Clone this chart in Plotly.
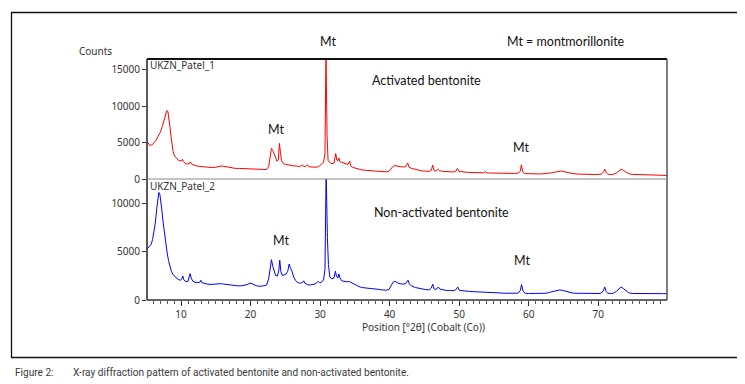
import plotly.graph_objects as go

# ---------------- data ----------------
activated = [
    (5.1, 5150), (5.3, 4800), (5.5, 4620), (5.8, 4700), (6.1, 4950), (6.4, 5350), (6.7, 5800),
    (7.0, 6400), (7.3, 7200), (7.6, 8100), (7.8, 8900), (7.95, 9400), (8.1, 9300), (8.25, 8500),
    (8.4, 7200), (8.55, 5900), (8.7, 4700), (8.85, 3800), (9.0, 3300), (9.2, 3000), (9.4, 2800),
    (9.6, 2600), (9.8, 2500), (10.0, 2450), (10.2, 2700), (10.35, 2400), (10.6, 2150), (10.9, 2050),
    (11.2, 2150), (11.35, 2350), (11.5, 2050), (11.8, 1900), (12.2, 1800), (12.6, 1750), (13.0, 1700),
    (13.5, 1600), (14.0, 1550), (14.5, 1560), (15.0, 1620), (15.5, 1720), (15.9, 1800), (16.3, 1720),
    (16.8, 1600), (17.3, 1520), (17.8, 1460), (18.4, 1450), (19.0, 1420), (19.6, 1400), (20.2, 1380),
    (20.8, 1360), (21.4, 1320), (21.9, 1260), (22.3, 1300), (22.6, 1700), (22.8, 3000), (23.0, 4200),
    (23.2, 3900), (23.4, 3400), (23.6, 2700), (23.8, 2450), (24.0, 2700), (24.15, 4900), (24.3, 3600),
    (24.45, 2500), (24.7, 2150), (25.0, 2000), (25.4, 1950), (25.8, 1850), (26.2, 1800), (26.6, 1780),
    (27.0, 1720), (27.3, 1800), (27.45, 1950), (27.6, 1750), (27.9, 1700), (28.2, 1950), (28.35, 1720),
    (28.7, 1650), (29.1, 1600), (29.5, 1620), (29.9, 1800), (30.2, 2000), (30.5, 2300), (30.7, 3500),
    (30.85, 17500), (31.0, 6000), (31.15, 2500), (31.4, 2300), (31.7, 2100), (32.0, 2200), (32.25, 3500),
    (32.4, 2600), (32.55, 2500), (32.7, 2900), (32.85, 2400), (33.1, 2300), (33.4, 2200), (33.7, 2050),
    (34.0, 2000), (34.25, 2450), (34.4, 1800), (34.7, 1600), (35.0, 1500), (35.5, 1350), (36.0, 1250),
    (36.5, 1200), (37.0, 1150), (37.5, 1100), (38.0, 1050), (38.5, 1000), (39.0, 1000), (39.5, 980),
    (39.9, 1050), (40.2, 1400), (40.5, 1750), (40.8, 1850), (41.1, 1750), (41.5, 1700), (41.9, 1650),
    (42.3, 1700), (42.6, 2200), (42.8, 1600), (43.2, 1450), (43.7, 1300), (44.2, 1200), (44.7, 1100),
    (45.2, 1080), (45.7, 1050), (46.0, 1200), (46.2, 1900), (46.4, 1150), (46.7, 1100), (47.0, 1350),
    (47.2, 1150), (47.6, 1050), (48.1, 1000), (48.6, 980), (49.1, 970), (49.5, 1050), (49.75, 1450),
    (50.0, 1050), (50.5, 950), (51.0, 930), (51.5, 900), (52.0, 880), (52.5, 870), (53.0, 850),
    (53.5, 850), (53.8, 1000), (54.0, 840), (54.5, 820), (55.0, 800), (55.5, 790), (56.0, 780),
    (56.5, 770), (57.0, 760), (57.5, 760), (58.0, 770), (58.5, 800), (58.8, 1100), (58.95, 1950),
    (59.15, 1000), (59.4, 750), (59.8, 720), (60.3, 700), (60.8, 690), (61.3, 700), (61.8, 700),
    (62.3, 720), (62.8, 760), (63.3, 850), (63.8, 950), (64.3, 1050), (64.7, 1100), (65.1, 1000),
    (65.5, 900), (66.0, 800), (66.5, 720), (67.0, 680), (67.5, 650), (68.0, 640), (68.5, 630),
    (69.0, 620), (69.5, 620), (70.0, 630), (70.5, 700), (70.8, 1000), (70.95, 1350), (71.15, 900),
    (71.4, 650), (71.8, 620), (72.2, 650), (72.6, 800), (73.0, 1100), (73.3, 1350), (73.6, 1200),
    (74.0, 900), (74.4, 720), (74.9, 640), (75.4, 620), (75.9, 600), (76.4, 640), (76.9, 600),
    (77.4, 590), (77.9, 560), (78.4, 540), (78.9, 520), (79.4, 500), (79.9, 490),
]

non_activated = [
    (5.1, 5300), (5.3, 5450), (5.5, 5550), (5.7, 5800), (5.9, 6300), (6.1, 7000), (6.3, 8000),
    (6.5, 9500), (6.65, 10600), (6.8, 11200), (6.95, 11000), (7.1, 10300), (7.25, 9300), (7.4, 8200),
    (7.6, 7000), (7.8, 5900), (8.0, 4900), (8.2, 4100), (8.4, 3500), (8.6, 3000), (8.8, 2700),
    (9.0, 2500), (9.3, 2300), (9.6, 2150), (9.9, 2050), (10.1, 2200), (10.25, 2500), (10.4, 2100),
    (10.7, 1900), (11.0, 1950), (11.15, 2400), (11.3, 2750), (11.45, 2300), (11.7, 1950), (12.0, 1850),
    (12.4, 1800), (12.7, 1850), (12.85, 2050), (13.0, 1800), (13.4, 1700), (13.8, 1650), (14.3, 1620),
    (14.8, 1650), (15.3, 1700), (15.7, 1700), (16.1, 1660), (16.6, 1600), (17.1, 1550), (17.6, 1500),
    (18.1, 1480), (18.6, 1470), (19.1, 1500), (19.5, 1600), (19.9, 1750), (20.2, 1700), (20.6, 1550),
    (21.0, 1450), (21.5, 1430), (22.0, 1460), (22.3, 1550), (22.6, 2200), (22.85, 3700), (23.0, 4200),
    (23.2, 3500), (23.4, 2900), (23.6, 2550), (23.85, 2500), (24.05, 3000), (24.2, 4150), (24.35, 3000),
    (24.55, 2550), (24.8, 2600), (25.1, 2700), (25.35, 3000), (25.55, 3750), (25.75, 3300), (25.95, 3000),
    (26.2, 2400), (26.5, 2000), (26.8, 1800), (27.2, 1750), (27.5, 1850), (27.65, 2000), (27.8, 1750),
    (28.2, 1600), (28.6, 1560), (29.0, 1600), (29.4, 1700), (29.7, 1950), (29.9, 1800), (30.2, 1850),
    (30.5, 2100), (30.7, 3200), (30.87, 13500), (31.05, 6500), (31.2, 3700), (31.4, 2400), (31.7, 2200),
    (32.0, 2300), (32.2, 3000), (32.35, 2500), (32.55, 2300), (32.7, 2700), (32.85, 2300), (33.1, 2000),
    (33.4, 1950), (33.8, 1900), (34.2, 1920), (34.5, 1800), (34.8, 1650), (35.2, 1550), (35.6, 1400),
    (36.0, 1300), (36.5, 1270), (37.0, 1250), (37.5, 1200), (38.0, 1150), (38.5, 1100), (39.0, 1050),
    (39.5, 1020), (39.9, 1100), (40.2, 1500), (40.5, 1850), (40.8, 1950), (41.1, 1800), (41.5, 1700),
    (41.9, 1650), (42.3, 1700), (42.65, 2050), (42.85, 1650), (43.2, 1450), (43.7, 1300), (44.2, 1200),
    (44.7, 1100), (45.2, 1080), (45.7, 1050), (46.0, 1250), (46.2, 1650), (46.4, 1150), (46.7, 1100),
    (47.0, 1350), (47.2, 1150), (47.6, 1050), (48.1, 1000), (48.6, 990), (49.1, 970), (49.5, 1050),
    (49.8, 1350), (50.05, 1000), (50.5, 950), (51.0, 920), (51.5, 890), (52.0, 870), (52.5, 860),
    (53.0, 840), (53.5, 830), (54.0, 810), (54.5, 790), (55.0, 770), (55.5, 750), (56.0, 730),
    (56.5, 700), (57.0, 690), (57.5, 690), (58.0, 700), (58.5, 720), (58.8, 1000), (58.98, 1600),
    (59.2, 900), (59.5, 700), (60.0, 680), (60.5, 670), (61.0, 660), (61.5, 660), (62.0, 670),
    (62.5, 700), (63.0, 800), (63.5, 900), (64.0, 950), (64.5, 1050), (64.9, 1000), (65.3, 900),
    (65.8, 800), (66.3, 720), (66.8, 700), (67.3, 690), (67.8, 680), (68.3, 670), (68.8, 660),
    (69.3, 660), (69.8, 660), (70.3, 680), (70.7, 900), (70.95, 1350), (71.15, 900), (71.4, 700),
    (71.8, 680), (72.2, 700), (72.6, 900), (73.0, 1200), (73.3, 1350), (73.6, 1200), (74.0, 950),
    (74.4, 750), (74.9, 680), (75.4, 670), (75.9, 660), (76.4, 680), (76.9, 660), (77.4, 660),
    (77.9, 660), (78.4, 660), (78.9, 660), (79.4, 660), (79.9, 660),
]

x_tick_vals = [10, 20, 30, 40, 50, 60, 70]
top_y_ticks = [0, 5000, 10000, 15000]
bottom_y_ticks = [0, 5000, 10000]

sample_names = ["UKZN_Patel_1", "UKZN_Patel_2"]
panel_labels = ["Activated bentonite", "Non-activated bentonite"]

# ---------------- layout helpers ----------------
W, H = 745, 384
def px(x):
    return x / W
def py(y):
    return 1 - y / H

PL, PR = 139, 659          # plot left / right (px)
PT, PM, PB = 51, 171, 292  # top, middle, bottom (px)

ax_x, ax_y = zip(*activated)
na_x, na_y = zip(*non_activated)

fig = go.Figure()
fig.add_trace(go.Scatter(x=ax_x, y=ax_y, mode="lines", line=dict(color="#ff0000", width=1),
                         xaxis="x2", yaxis="y2", showlegend=False, hoverinfo="skip"))
fig.add_trace(go.Scatter(x=na_x, y=na_y, mode="lines", line=dict(color="#0000ff", width=1),
                         xaxis="x", yaxis="y", showlegend=False, hoverinfo="skip"))

tick_font = dict(family="Noto Sans, DejaVu Sans, sans-serif", size=10, color="#333333")
xr = [5.1, 79.9]

fig.update_layout(
    width=W, height=H,
    margin=dict(l=0, r=0, t=0, b=0, pad=0),
    paper_bgcolor="white", plot_bgcolor="white",
    xaxis=dict(domain=[px(PL), px(PR)], anchor="y", range=xr, tickvals=x_tick_vals,
               ticktext=[str(v) for v in x_tick_vals],
               ticks="outside", ticklen=5, tickwidth=1, tickcolor="#333333",
               minor=dict(dtick=1, ticks="outside", ticklen=3, tickwidth=1, tickcolor="#555555"),
               showgrid=False, zeroline=False, showline=False, tickfont=tick_font,
               automargin=False, fixedrange=True),
    yaxis=dict(domain=[py(PB), py(PM)], anchor="x", range=[0, 12600], tickvals=bottom_y_ticks,
               ticktext=[str(v) for v in bottom_y_ticks],
               ticks="outside", ticklen=4, tickwidth=1, tickcolor="#333333",
               showgrid=False, zeroline=False, showline=False, tickfont=tick_font,
               automargin=False, fixedrange=True),
    xaxis2=dict(domain=[px(PL), px(PR)], anchor="y2", range=xr, matches="x",
                showticklabels=False, ticks="", showgrid=False, zeroline=False, showline=False,
                automargin=False, fixedrange=True),
    yaxis2=dict(domain=[py(PM), py(PT)], anchor="x2", range=[0, 16500], tickvals=top_y_ticks,
                ticktext=[str(v) for v in top_y_ticks],
                ticks="outside", ticklen=4, tickwidth=1, tickcolor="#333333",
                showgrid=False, zeroline=False, showline=False, tickfont=tick_font,
                automargin=False, fixedrange=True),
)

shapes = [
    # outer figure frame
    dict(type="rect", xref="paper", yref="paper", x0=px(3.5), x1=px(741), y0=py(349.5), y1=py(4.5),
         line=dict(color="#111111", width=1.3)),
    # plot frame
    dict(type="line", xref="paper", yref="paper", x0=px(PL), x1=px(PR), y0=py(PT), y1=py(PT),
         line=dict(color="#111111", width=2)),
    dict(type="line", xref="paper", yref="paper", x0=px(PL), x1=px(PL), y0=py(PT), y1=py(PB),
         line=dict(color="#222222", width=1.5)),
    dict(type="line", xref="paper", yref="paper", x0=px(PR), x1=px(PR), y0=py(PT), y1=py(PB),
         line=dict(color="#555555", width=1.5)),
    dict(type="line", xref="paper", yref="paper", x0=px(PL), x1=px(PR), y0=py(PM), y1=py(PM),
         line=dict(color="#888888", width=1)),
    dict(type="line", xref="paper", yref="paper", x0=px(PL), x1=px(PR), y0=py(PB), y1=py(PB),
         line=dict(color="#333333", width=1.5)),
]
fig.update_layout(shapes=shapes)

lab_font = dict(family="Lato, Open Sans, sans-serif", size=12.5, color="#111111")
small_font = dict(family="Noto Sans, DejaVu Sans, sans-serif", size=10, color="#333333")
cap_font = dict(family="Roboto, Liberation Sans, sans-serif", size=10.1, color="#3a3a3a")

def ann(text, x, y, font, xanchor="center"):
    return dict(text=text, x=px(x), y=py(y), xref="paper", yref="paper", showarrow=False,
                xanchor=xanchor, yanchor="middle", font=font)

annotations = [
    ann("Counts", 87, 43, small_font),
    ann("Mt", 320, 33, lab_font),
    ann("Mt = montmorillonite", 558, 33, lab_font),
    ann(panel_labels[0], 418, 72, lab_font),
    ann(panel_labels[1], 434, 204, lab_font),
    ann("Mt", 268, 122, lab_font),
    ann("Mt", 513, 140, lab_font),
    ann("Mt", 273, 232, lab_font),
    ann("Mt", 514, 252, lab_font),
    ann(sample_names[0], 140, 57, small_font, "left"),
    ann(sample_names[1], 140, 178, small_font, "left"),
    ann("Position [°2θ] (Cobalt (Co))", 415, 319, small_font),
    ann("Figure 2:", 5, 364, cap_font, "left"),
    ann("X-ray diffraction pattern of activated bentonite and non-activated bentonite.", 63, 364,
        cap_font, "left"),
]
fig.update_layout(annotations=annotations)

fig.write_html("out.html")
